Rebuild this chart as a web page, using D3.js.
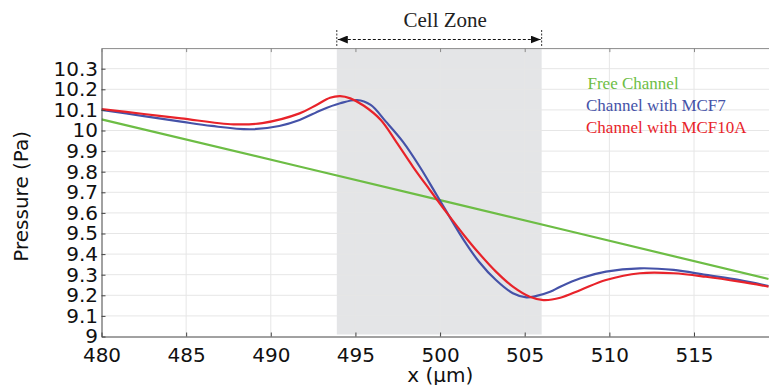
<!DOCTYPE html>
<html>
<head>
<meta charset="utf-8">
<script src="https://cdn.jsdelivr.net/npm/d3@7"></script>
<style>
  body { margin: 0; background: #fff; }
  svg { display: block; }
  .axis text { font-family: "DejaVu Sans", sans-serif; font-size: 20px; fill: #111; }
  .axis path, .axis line { stroke: #444; }
</style>
</head>
<body>
<div id="container"></div>
<script>
// data (x in µm, pressure in Pa)
const xTicks = [480, 485, 490, 495, 500, 505, 510, 515];
const yTicks = [9, 9.1, 9.2, 9.3, 9.4, 9.5, 9.6, 9.7, 9.8, 9.9, 10, 10.1, 10.2, 10.3];
const yTickLabels = ['9', '9.1', '9.2', '9.3', '9.4', '9.5', '9.6', '9.7', '9.8', '9.9', '10', '10.1', '10.2', '10.3'];
const cellZone = [493.9, 506.0];
const seriesNames = ['Free Channel', 'Channel with MCF7', 'Channel with MCF10A'];
const seriesColors = ['#6dbd45', '#4552a8', '#e8232a'];

const freeX = [480, 500, 519.4];
const freeP = [10.054, 9.662, 9.279];

const mcf7X = [480, 482.5, 484.7, 486.5, 488.8, 490.5, 491.7, 493, 494.1, 495.1, 495.9, 496.8, 497.8, 498.8, 499.8, 501.4, 502.3, 503.3, 504.3, 505.1, 505.7, 506.5, 507.1, 508.3, 509.8, 511.8, 513.8, 515.7, 517.7, 519.4];
const mcf7P = [10.1, 10.07, 10.043, 10.022, 10.006, 10.022, 10.051, 10.1, 10.132, 10.148, 10.124, 10.043, 9.946, 9.824, 9.687, 9.468, 9.363, 9.274, 9.21, 9.19, 9.197, 9.217, 9.242, 9.283, 9.315, 9.331, 9.323, 9.299, 9.274, 9.245];

const mcf10aX = [480, 482.5, 484.7, 487.8, 489.5, 491.7, 492.7, 493.5, 494.1, 494.7, 495.5, 496.5, 497.4, 498.4, 499.4, 500.4, 501.4, 502.3, 503.3, 504.3, 505.3, 506.1, 507.1, 508.3, 509.8, 511.8, 513.8, 515.7, 517.7, 519.4];
const mcf10aP = [10.104, 10.08, 10.059, 10.03, 10.036, 10.083, 10.124, 10.159, 10.167, 10.156, 10.12, 10.051, 9.946, 9.824, 9.711, 9.6, 9.493, 9.404, 9.315, 9.242, 9.193, 9.177, 9.188, 9.226, 9.274, 9.307, 9.307, 9.29, 9.266, 9.242];

const width = 769;
const height = 385;
const plotLeft = 101.5;
const plotTop = 48.1;
const plotBottom = 336.5;

const svg = d3.select('#container')
  .append('svg')
  .attr('width', width)
  .attr('height', height);

const xScale = d3.scaleLinear().domain([480, 519.43]).range([plotLeft, width]);
const yScale = d3.scaleLinear().domain([9, 10.4]).range([plotBottom, plotTop]);

// cell zone shading
svg.append('rect')
  .attr('x', xScale(cellZone[0]))
  .attr('y', plotTop + 1)
  .attr('width', xScale(cellZone[1]) - xScale(cellZone[0]))
  .attr('height', plotBottom - plotTop - 3)
  .attr('fill', '#e4e5e7');

// grid
const grid = svg.append('g').attr('stroke', '#e6e6e6').attr('stroke-width', 1);
grid.selectAll('.gx')
  .data(xTicks.slice(1))
  .enter()
  .append('line')
  .attr('x1', (d) => xScale(d))
  .attr('x2', (d) => xScale(d))
  .attr('y1', plotTop)
  .attr('y2', plotBottom);
grid.selectAll('.gy')
  .data(yTicks.slice(1))
  .enter()
  .append('line')
  .attr('x1', plotLeft)
  .attr('x2', width)
  .attr('y1', (d) => yScale(d))
  .attr('y2', (d) => yScale(d));

// clip
const defs = svg.append('defs');
defs.append('clipPath')
  .attr('id', 'clip')
  .append('rect')
  .attr('x', plotLeft)
  .attr('y', plotTop)
  .attr('width', width - plotLeft)
  .attr('height', plotBottom - plotTop);

const lineGen = d3.line()
  .x((d) => xScale(d[0]))
  .y((d) => yScale(d[1]))
  .curve(d3.curveCatmullRom.alpha(0.5));

const lines = svg.append('g').attr('clip-path', 'url(#clip)');
[[freeX, freeP], [mcf7X, mcf7P], [mcf10aX, mcf10aP]].forEach(([xs, ps], i) => {
  lines.append('path')
    .datum(xs.map((x, j) => [x, ps[j]]))
    .attr('fill', 'none')
    .attr('stroke', seriesColors[i])
    .attr('stroke-width', 2.2)
    .attr('d', lineGen);
});

// axes
svg.append('g')
  .attr('class', 'axis')
  .attr('transform', `translate(0,${plotBottom})`)
  .call(d3.axisBottom(xScale).tickValues(xTicks).tickSize(-4).tickSizeOuter(0).tickPadding(11));

svg.append('g')
  .attr('class', 'axis')
  .attr('transform', `translate(${plotLeft},0)`)
  .call(d3.axisLeft(yScale).tickValues(yTicks).tickFormat((d, i) => yTickLabels[i])
    .tickSize(-4).tickSizeOuter(0).tickPadding(3.5));

const topAxis = svg.append('g')
  .attr('class', 'axis')
  .attr('transform', `translate(0,${plotTop})`)
  .call(d3.axisTop(xScale).tickValues(xTicks).tickSize(-4).tickSizeOuter(0).tickFormat(''));
topAxis.selectAll('path, line').style('stroke', '#8a8a8a');

// axis titles
svg.append('text')
  .attr('x', (plotLeft + width) / 2 + 5)
  .attr('y', 382)
  .attr('text-anchor', 'middle')
  .style('font-family', '"DejaVu Sans", sans-serif')
  .style('font-size', '20px')
  .attr('fill', '#111')
  .text('x (μm)');

svg.append('text')
  .attr('transform', `translate(28,${(plotTop + plotBottom) / 2 + 4}) rotate(-90)`)
  .attr('text-anchor', 'middle')
  .style('font-family', '"DejaVu Sans", sans-serif')
  .style('font-size', '20px')
  .attr('fill', '#111')
  .text('Pressure (Pa)');

// cell zone annotation
const zx0 = xScale(cellZone[0]);
const zx1 = xScale(cellZone[1]);
defs.append('marker')
  .attr('id', 'arrow')
  .attr('viewBox', '0 0 10 8')
  .attr('refX', 10)
  .attr('refY', 4)
  .attr('markerWidth', 10)
  .attr('markerHeight', 8)
  .attr('markerUnits', 'userSpaceOnUse')
  .attr('orient', 'auto-start-reverse')
  .append('path')
  .attr('d', 'M0,0L10,4L0,8Z')
  .attr('fill', '#111');

const anno = svg.append('g');
[zx0, zx1].forEach((x) => {
  anno.append('line')
    .attr('x1', x).attr('x2', x)
    .attr('y1', 30).attr('y2', 47)
    .attr('stroke', '#333')
    .attr('stroke-width', 1)
    .attr('stroke-dasharray', '2,1.5');
});
anno.append('line')
  .attr('x1', zx0 + 1).attr('x2', zx1 - 1)
  .attr('y1', 39.5).attr('y2', 39.5)
  .attr('stroke', '#111')
  .attr('stroke-width', 1.2)
  .attr('stroke-dasharray', '3,2')
  .attr('marker-start', 'url(#arrow)')
  .attr('marker-end', 'url(#arrow)');
anno.append('text')
  .attr('x', (zx0 + zx1) / 2 + 6)
  .attr('y', 26.5)
  .attr('text-anchor', 'middle')
  .style('font-family', '"Liberation Serif", serif')
  .style('font-size', '21px')
  .attr('fill', '#222')
  .text('Cell Zone');

// legend
const legend = svg.append('g').attr('transform', 'translate(587,89)');
legend.selectAll('text')
  .data(seriesNames)
  .enter()
  .append('text')
  .attr('x', (d, i) => (i === 0 ? 0.5 : -1))
  .attr('y', (d, i) => i * 22)
  .style('font-family', '"Liberation Serif", serif')
  .style('font-size', '17px')
  .attr('fill', (d, i) => seriesColors[i])
  .text((d) => d);
</script>
</body>
</html>
